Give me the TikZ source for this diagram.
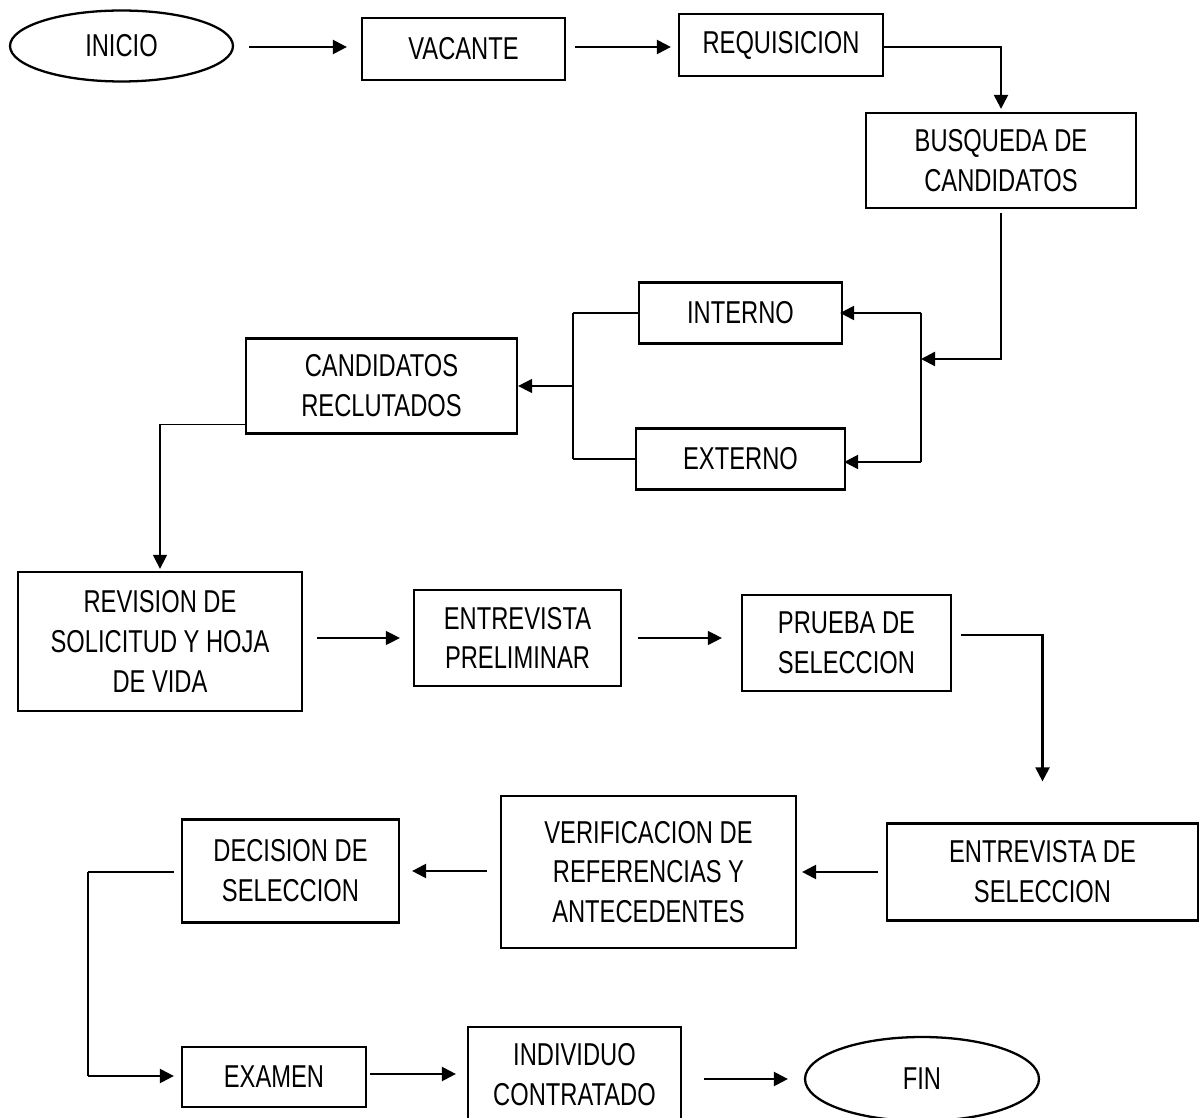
\documentclass[tikz,border=0pt]{standalone}
\usepackage{fontspec}
\setmainfont{Liberation Sans}[FakeStretch=0.75]
\usetikzlibrary{arrows.meta,shapes.geometric}

\begin{document}
\begin{tikzpicture}[
  x=0.02cm, y=-0.02cm,
  box/.style={draw,line width=1.3pt,inner sep=0pt,align=center,font=\fontsize{18pt}{22.7pt}\selectfont},
  oval/.style={ellipse,draw,line width=1.3pt,inner sep=0pt,font=\fontsize{18pt}{22.7pt}\selectfont},
  arr/.style={line width=1.3pt,-{Triangle[length=0.28cm,width=0.28cm]}},
  tarr/.style={line width=0.8pt,-{Triangle[length=0.28cm,width=0.28cm]}},
  link/.style={line width=1.3pt},
  tlink/.style={line width=0.8pt}
]
  \useasboundingbox (0,0) rectangle (1204,1118);
  \node[oval,minimum width=4.46cm,minimum height=1.42cm] (inicio) at (121.5,46) {INICIO};
  \node[box,minimum width=4.06cm,minimum height=1.24cm] (vacante) at (463.5,49) {VACANTE};
  \node[box,minimum width=4.08cm,minimum height=1.24cm] (requisicion) at (781,45) {REQUISICION};
  \node[box,minimum width=5.40cm,minimum height=1.90cm] (busqueda) at (1001,160.5) {BUSQUEDA DE\\CANDIDATOS};
  \node[box,minimum width=4.06cm,minimum height=1.22cm] (interno) at (740.5,313) {INTERNO};
  \node[box,minimum width=4.18cm,minimum height=1.22cm] (externo) at (740.5,459) {EXTERNO};
  \node[box,minimum width=5.42cm,minimum height=1.90cm] (candidatos) at (381.5,386) {CANDIDATOS\\RECLUTADOS};
  \node[box,minimum width=5.68cm,minimum height=2.78cm] (revision) at (160,641.5) {REVISION DE\\SOLICITUD Y HOJA\\DE VIDA};
  \node[box,minimum width=4.14cm,minimum height=1.92cm] (preliminar) at (517.5,638) {ENTREVISTA\\PRELIMINAR};
  \node[box,minimum width=4.18cm,minimum height=1.92cm] (prueba) at (846.5,643) {PRUEBA DE\\SELECCION};
  \node[box,minimum width=6.22cm,minimum height=1.94cm] (entrevista) at (1042.5,872) {ENTREVISTA DE\\SELECCION};
  \node[box,minimum width=5.90cm,minimum height=3.04cm] (verificacion) at (648.5,872) {VERIFICACION DE\\REFERENCIAS Y\\ANTECEDENTES};
  \node[box,minimum width=4.34cm,minimum height=2.06cm] (decision) at (290.5,871) {DECISION DE\\SELECCION};
  \node[box,minimum width=3.68cm,minimum height=1.20cm] (examen) at (274,1077) {EXAMEN};
  \node[box,minimum width=4.26cm,minimum height=1.92cm] (individuo) at (574.5,1075) {INDIVIDUO\\CONTRATADO};
  \node[oval,minimum width=4.68cm,minimum height=1.68cm] (fin) at (922,1079) {FIN};
  \coordinate (rsplit) at (921,359);
  \coordinate (rtop) at (921,313);
  \coordinate (rbot) at (921,462);
  \coordinate (ltop) at (573,313);
  \coordinate (lbot) at (573,459);
  \coordinate (lmid) at (573,386);
  \coordinate (dtop) at (88,872);
  \coordinate (dbot) at (88,1076);
  \draw[arr,shorten <=0.3cm,shorten >=0.28cm] (inicio.east |- 0,47) -- (vacante.west |- 0,47);
  \draw[arr,shorten <=0.18cm,shorten >=0.14cm] (vacante.east |- 0,47) -- (requisicion.west |- 0,47);
  \draw[arr,shorten >=0.06cm] (requisicion.east |- 0,47) -| (busqueda.north);
  \draw[arr,shorten <=0.08cm] (busqueda.south) |- (rsplit);
  \draw[tlink] (rtop) -- (rbot);
  \draw[arr,shorten >=-0.06cm] (rtop) -- (interno.east);
  \draw[arr,shorten >=-0.04cm] (rbot) -- (rbot -| externo.east);
  \draw[link] (interno.west) -- (ltop);
  \draw[link] (externo.west) -- (lbot);
  \draw[tlink] (ltop) -- (lbot);
  \draw[tarr] (lmid) -- (candidatos.east);
  \draw[tarr,shorten >=0.04cm] ([yshift=0.2cm]candidatos.south west) -| (revision.north);
  \draw[tarr,shorten <=0.28cm,shorten >=0.26cm] (revision.east |- preliminar.west) -- (preliminar.west);
  \draw[tarr,shorten <=0.32cm,shorten >=0.38cm] (preliminar.east) -- (preliminar.east -| prueba.west);
  \draw[arr,shorten <=0.18cm,shorten >=0.82cm] ([yshift=0.16cm]prueba.east) -| (entrevista.north);
  \draw[arr,shorten <=0.16cm,shorten >=0.1cm] (entrevista.west) -- (verificacion.east |- entrevista.west);
  \draw[arr,shorten <=0.26cm,shorten >=0.24cm] (verificacion.west |- decision.east) -- (decision.east);
  \draw[link,shorten <=0.14cm] (decision.west |- dtop) -- (dtop);
  \draw[tlink] (dtop) -- (dbot);
  \draw[arr,shorten >=0.14cm] (dbot) -- (dbot -| examen.west);
  \draw[arr,shorten <=0.06cm,shorten >=0.22cm] (examen.east |- 0,1074) -- (individuo.west |- 0,1074);
  \draw[arr,shorten <=0.44cm,shorten >=0.32cm] (individuo.east |- fin.west) -- (fin.west);
\end{tikzpicture}
\end{document}
